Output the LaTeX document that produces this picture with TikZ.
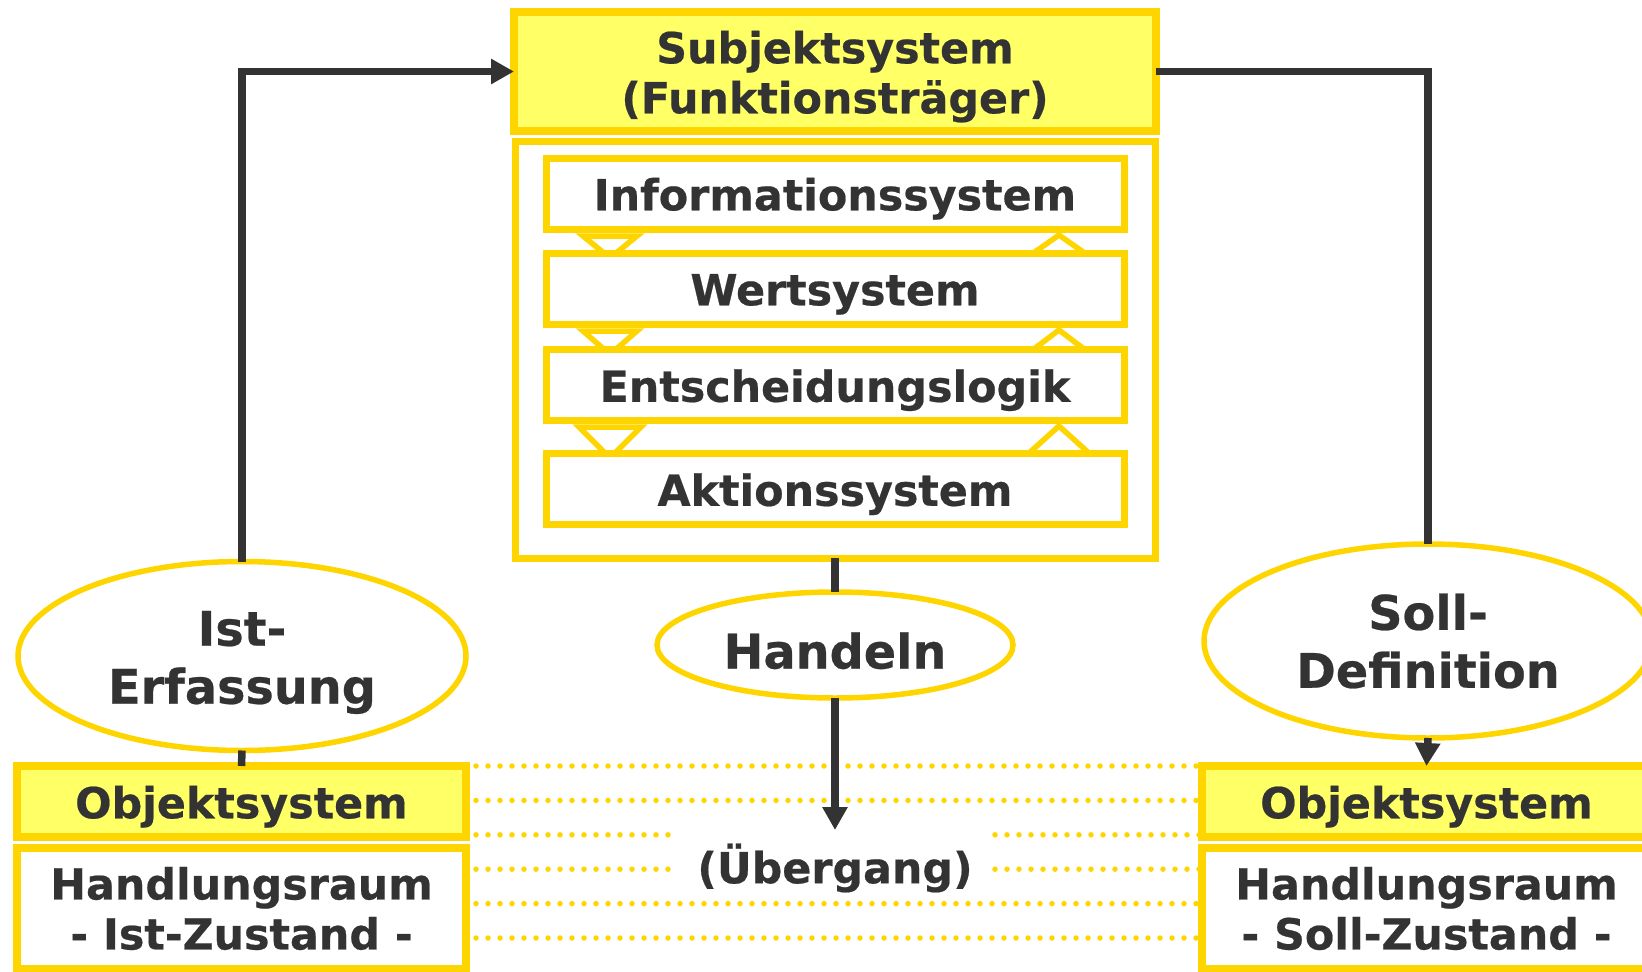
\documentclass[tikz,border=0pt]{standalone}
\usepackage{fontspec}
\setmainfont{DejaVu Sans}[BoldFeatures={FakeBold=0.5}]
\usepackage{xcolor}
\usetikzlibrary{shapes.geometric,arrows.meta,positioning}
\definecolor{gold}{HTML}{FFD500}
\definecolor{lemon}{HTML}{FFFF66}
\definecolor{ink}{HTML}{333333}
\newcommand{\lift}{\rule{0pt}{1em}}

\begin{document}
\begin{tikzpicture}[x=1pt, y=-1pt,
    box/.style={rectangle, draw=gold, line width=8pt, fill=white, inner sep=0pt, outer sep=0pt, align=center, text=ink, font=\fontsize{42.8}{50}\selectfont\bfseries, execute at begin node=\lift},
    headbox/.style={box, fill=lemon},
    subbox/.style={box, line width=7pt, minimum width=578pt, minimum height=71pt},
    oval/.style={ellipse, draw=gold, line width=5.5pt, fill=white, inner sep=0pt, outer sep=0pt, align=center, text=ink, font=\fontsize{47.7}{58}\selectfont\bfseries, execute at begin node=\lift},
    note/.style={text=ink, inner sep=0pt, font=\fontsize{42.8}{50}\selectfont\bfseries},
    arrow/.style={->, draw=ink, line width=7.5pt, >={Triangle[length=23pt, width=24pt]}},
    link/.style={draw=ink, line width=7.5pt},
    marker/.style={draw=gold, line width=5.5pt, fill=white},
    dots/.style={draw=gold, line width=5.5pt, line cap=round, dash pattern=on 0pt off 12pt}
]
\useasboundingbox (0,0) rectangle (1642,972);

% Subjektsystem
\node[headbox, minimum width=642pt, minimum height=119pt] (subj) at (835,71.5) {\lift Subjektsystem\\(Funktionsträger)};
\node[box, line width=7pt, minimum width=640pt, minimum height=417pt] (frame) at (835,349.5) {};

% small triangles between the sub-systems
\foreach \ya/\yb/\hw in {229/253/27, 324/349.5/27, 420/453/31} {
    \draw[marker] (610-\hw,\ya+7) -- (610+\hw,\ya+7) -- (610,\yb+5) -- cycle;
    \draw[marker] (1059-\hw,\yb+1) -- (1059+\hw,\yb+1) -- (1059,\ya+6) -- cycle;
}

\node[subbox] (info) at (835,193.5) {Informationssystem};
\node[subbox, below=24pt of info] (wert) {Wertsystem};
\node[subbox, below=25.5pt of wert] (entsch) {Entscheidungslogik};
\node[subbox, below=33pt of entsch] (aktion) {Aktionssystem};

% Ellipses
\node[oval, minimum width=448pt, minimum height=189pt] (ist) at (242,656) {\lift Ist-\\Erfassung};
\node[oval, minimum width=356pt, minimum height=106pt] (handeln) at (835,645) {Handeln};
\node[oval, minimum width=448pt, minimum height=194pt] (soll) at (1428,641) {Soll-\\Definition};

% Objektsystem (Ist / Soll)
\node[headbox, minimum width=449pt, minimum height=71pt] (objist) at (241.5,801.5) {Objektsystem};
\node[box, minimum width=449pt, minimum height=121pt, below=11pt of objist] (raumist) {Handlungsraum\\- Ist-Zustand -};
\node[headbox, minimum width=449pt, minimum height=71pt] (objsoll) at (1426.5,801.5) {Objektsystem};
\node[box, minimum width=449pt, minimum height=121pt, below=11pt of objsoll] (raumsoll) {Handlungsraum\\- Soll-Zustand -};

% Uebergang
\foreach \y in {766,800.4,903.6,938}
    \draw[dots] (476,\y) -- (1199,\y);
\foreach \y in {834.8,869.2} {
    \draw[dots] (476,\y) -- (672,\y);
    \draw[dots] (995,\y) -- (1199,\y);
}
\node[note] (uebergang) at (835,868) {(Übergang)};
\coordinate (ziel) at (835,830);

% Connectors
\draw[arrow] (ist.north) |- (subj.west);
\draw[link] (subj.east) -| (soll.north);
\draw[link] (frame.south) -- (handeln.north);
\draw[arrow] (handeln.south) -- (ziel);
\draw[arrow] (soll.south) -- (objsoll.north);
\draw[link] (ist.south) -- (objist.north);

\end{tikzpicture}
\end{document}
